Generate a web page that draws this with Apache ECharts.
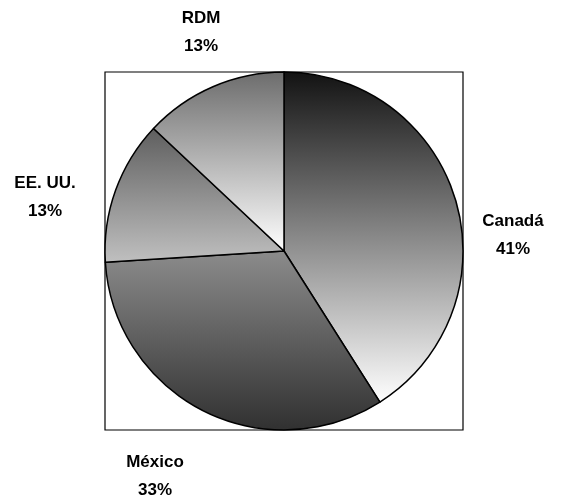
<!DOCTYPE html>
<html>
<head>
<meta charset="utf-8">
<script src="https://cdn.jsdelivr.net/npm/echarts@6/dist/echarts.min.js"></script>
<style>
  html, body { margin: 0; padding: 0; background: #fff; }
  #main { width: 564px; height: 496px; }
</style>
</head>
<body>
<div id="main"></div>
<script>
// data
const names = ['Canadá', 'México', 'EE. UU.', 'RDM'];
const shares = [41, 33, 13, 13];
// gradient top / bottom for each slice
const topColors = ['#121212', '#8c8c8c', '#5e5e5e', '#6c6c6c'];
const bottomColors = ['#ffffff', '#303030', '#c0c0c0', '#ffffff'];
// label centres (Excel style placement)
const labelPos = [[513, 235], [155, 476], [45, 197], [201, 32]];

const cx = 284, cy = 251, R = 179;

const chart = echarts.init(document.getElementById('main'), null, { renderer: 'canvas' });

const data = names.map((n, i) => ({
    name: n,
    value: shares[i],
    itemStyle: {
        color: new echarts.graphic.LinearGradient(0, 0, 0, 1, [
            { offset: 0, color: topColors[i] },
            { offset: 1, color: bottomColors[i] }
        ])
    }
}));

chart.setOption({
    animation: false,
    graphic: [{
        type: 'rect',
        shape: { x: cx - R, y: cy - R, width: 2 * R, height: 2 * R },
        style: { fill: '#fff', stroke: '#000', lineWidth: 1.2 },
        z: -1
    }],
    series: [{
        type: 'pie',
        center: [cx, cy],
        radius: [0, R],
        startAngle: 90,
        clockwise: true,
        itemStyle: { borderColor: '#000', borderWidth: 1.5 },
        emphasis: { disabled: true },
        labelLine: { show: false },
        label: {
            show: true,
            position: 'inside',
            formatter: p => p.name + '\n' + p.value + '%',
            fontFamily: 'Liberation Sans, Arial, sans-serif',
            fontWeight: 'bold',
            fontSize: 17,
            lineHeight: 28,
            color: '#000',
            overflow: 'none'
        },
        labelLayout: p => ({
            x: labelPos[p.dataIndex][0],
            y: labelPos[p.dataIndex][1],
            align: 'center',
            verticalAlign: 'middle'
        }),
        data
    }]
});
</script>
</body>
</html>
